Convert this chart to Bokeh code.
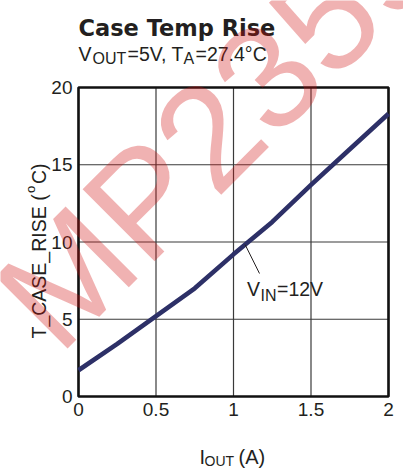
import math
from bokeh.plotting import figure
from bokeh.models import Label, Range1d
from bokeh.core.properties import value
from bokeh.embed import file_html
from bokeh.resources import INLINE

# Case temperature rise vs output current, VIN = 12 V
iout = [0.0, 0.25, 0.5, 0.75, 1.0, 1.25, 1.5, 1.75, 2.0]
t_rise = [1.7, 3.4, 5.2, 7.0, 9.2, 11.3, 13.7, 16.0, 18.3]

x_ticks = [0, 0.5, 1, 1.5, 2]
x_tick_labels = ["0", "0.5", "1", "1.5", "2"]
y_ticks = [0, 5, 10, 15, 20]
y_tick_labels = ["0", "5", "10", "15", "20"]

W, H = 403, 468
# plot box inside the canvas, in pixels
BOX_L, BOX_R, BOX_T, BOX_B = 78, 388, 87, 396
X0, X1 = 0.0, 2.0
Y0, Y1 = 0.0, 20.0

FONT = "Liberation Sans"
INK = "#231f20"
CURVE = "#2d3067"
GRID = "#3a3a3a"

# data ranges chosen so the box [X0,X1]x[Y0,Y1] lands on the pixel box
sx = (X1 - X0) / (BOX_R - BOX_L)
sy = (Y1 - Y0) / (BOX_B - BOX_T)
x_range = Range1d(X0 - BOX_L * sx, X1 + (W - BOX_R) * sx)
y_range = Range1d(Y0 - (H - BOX_B) * sy, Y1 + BOX_T * sy)

p = figure(width=W, height=H, output_backend="svg", toolbar_location=None,
           x_range=x_range, y_range=y_range,
           x_axis_type=None, y_axis_type=None,
           min_border=0, min_border_left=0, min_border_right=0,
           min_border_top=0, min_border_bottom=0)
p.background_fill_color = "white"
p.border_fill_color = "white"
p.outline_line_color = None
p.grid.visible = False

# grid lines at the tick values
nx, ny = len(x_ticks), len(y_ticks)
p.segment(x0=x_ticks, y0=[Y0] * nx, x1=x_ticks, y1=[Y1] * nx,
          line_color=GRID, line_width=1.2)
p.segment(x0=[X0] * ny, y0=y_ticks, x1=[X1] * ny, y1=y_ticks,
          line_color=GRID, line_width=1.2)

# plot box border
p.quad(left=[X0], right=[X1], bottom=[Y0], top=[Y1], fill_color=None,
       line_color="#111111", line_width=2.6)

# tick labels
p.text(x=x_ticks, y=[Y0] * nx, text=x_tick_labels, text_font=value(FONT),
       text_font_size=value("19px"), text_color=INK, text_align="center",
       text_baseline="top", y_offset=6)
p.text(x=[X0] * ny, y=y_ticks, text=y_tick_labels, text_font=value(FONT),
       text_font_size=value("19px"), text_color=INK, text_align="right",
       text_baseline="middle", x_offset=-6)

# the curve
p.line(iout, t_rise, line_color=CURVE, line_width=4.6, line_join="round")

# leader from the curve to the series label
lead_x = 1.075
i = next(k for k in range(len(iout) - 1) if iout[k] <= lead_x <= iout[k + 1])
f = (lead_x - iout[i]) / (iout[i + 1] - iout[i])
lead_y = t_rise[i] + f * (t_rise[i + 1] - t_rise[i])
p.segment(x0=[lead_x], y0=[lead_y],
          x1=[X0 + (259 - BOX_L) * sx], y1=[Y0 + (BOX_B - 273) * sy],
          line_color=INK, line_width=1)


def txt(s, px, py, size, bold=False, angle=0.0, font=FONT, color=INK,
        alpha=1.0, level="annotation"):
    # screen units: pixels from the canvas' bottom-left corner
    lab = Label(x=px, y=H - py, text=s, x_units="screen", y_units="screen",
                text_font=font, text_font_size=f"{size}px",
                text_font_style="bold" if bold else "normal",
                text_color=color, text_alpha=alpha, angle=angle,
                text_align="left", text_baseline="alphabetic", level=level)
    p.add_layout(lab)


# title block
txt("Case Temp Rise", 78, 27.5, 22.5, bold=True, font="DejaVu Sans")
txt("V", 78, 53, 19.5)
txt("OUT", 92, 58, 16)
txt("=5V, T", 127, 53, 19.5)
txt("A", 183, 58, 16)
txt("=27.4°C", 195, 53, 19.5)

# series label
txt("V", 246.5, 288.5, 19.5)
txt("IN", 260, 295, 16)
txt("=12V", 276.5, 288.5, 19.5)

# x axis title
txt("I", 199, 456.5, 20)
txt("OUT", 204, 460.5, 14)
txt("(A)", 238, 456.5, 20)

# y axis title, rotated
up = math.pi / 2
txt("T_CASE_RISE (", 38, 338, 19.5, angle=up)
txt("o", 30, 192.5, 13, angle=up)
txt("C)", 38, 183.5, 19.5, angle=up)

# diagonal watermark
txt("MP2359", 22, 320, 148, angle=math.radians(45), color="#d01010",
    alpha=0.32, level="overlay")

open("out.html", "w").write(file_html(p, INLINE))
